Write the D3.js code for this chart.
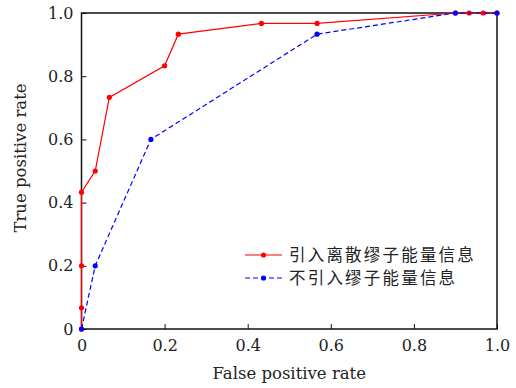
<!DOCTYPE html>
<html lang="zh">
<head>
  <meta charset="UTF-8">
  <script src="https://d3js.org/d3.v7.min.js"></script>
  <style>
    body { margin: 0; padding: 0; background: #fff; }
    text { font-family: "DejaVu Serif", "Liberation Serif", serif; fill: #222; }
    .cjk { font-family: "Noto Sans CJK SC", sans-serif; }
  </style>
</head>
<body>
  <script>
    // ROC points
    const fprWith = [0, 0, 0, 0, 0.033, 0.067, 0.2, 0.233, 0.433, 0.567, 0.9, 0.933, 0.967, 1.0];
    const tprWith = [0, 0.067, 0.2, 0.433, 0.5, 0.733, 0.833, 0.933, 0.967, 0.967, 1.0, 1.0, 1.0, 1.0];
    const fprWithout = [0, 0.033, 0.167, 0.567, 0.9, 1.0];
    const tprWithout = [0, 0.2, 0.6, 0.933, 1.0, 1.0];
    const xTicks = [0, 0.2, 0.4, 0.6, 0.8, 1.0];
    const yTicks = [0, 0.2, 0.4, 0.6, 0.8, 1.0];
    const legendLabels = ['引入离散缪子能量信息', '不引入缪子能量信息'];

    const width = 516, height = 388;
    const margin = { left: 81.5, right: 19, top: 13, bottom: 59 };

    const svg = d3.select('body').append('svg')
      .attr('width', width)
      .attr('height', height);

    const x = d3.scaleLinear().domain([0, 1]).range([margin.left, width - margin.right]);
    const y = d3.scaleLinear().domain([0, 1]).range([height - margin.bottom, margin.top]);

    const fmt = d => d === 0 ? '0' : d3.format('.1f')(d);

    // axes, ticks pointing inward
    const xAxis = svg.append('g')
      .attr('transform', `translate(0,${y(0)})`)
      .call(d3.axisBottom(x).tickValues(xTicks).tickFormat(fmt).tickSizeInner(-5).tickSizeOuter(0).tickPadding(11));
    const yAxis = svg.append('g')
      .attr('transform', `translate(${x(0)},0)`)
      .call(d3.axisLeft(y).tickValues(yTicks).tickFormat(fmt).tickSizeInner(-5).tickSizeOuter(0).tickPadding(8));

    [xAxis, yAxis].forEach(a => {
      a.select('.domain').remove();
      a.selectAll('.tick line').attr('stroke', '#111').attr('stroke-width', 1);
      a.selectAll('.tick text').attr('font-size', 16).attr('fill', '#222');
    });

    // frame
    svg.append('rect')
      .attr('x', x(0)).attr('y', y(1))
      .attr('width', x(1) - x(0)).attr('height', y(0) - y(1))
      .attr('fill', 'none').attr('stroke', '#111').attr('stroke-width', 1.5);

    const series = [
      { xs: fprWith, ys: tprWith, color: '#ff0000', dash: null },
      { xs: fprWithout, ys: tprWithout, color: '#0000ff', dash: '5,3' }
    ];

    const line = d3.line().x(d => x(d[0])).y(d => y(d[1]));

    series.forEach(s => {
      const pts = s.xs.map((v, i) => [v, s.ys[i]]);
      svg.append('path')
        .datum(pts)
        .attr('d', line)
        .attr('fill', 'none')
        .attr('stroke', s.color)
        .attr('stroke-width', 1.2)
        .attr('stroke-dasharray', s.dash);
      svg.append('g').selectAll('circle')
        .data(pts)
        .enter().append('circle')
        .attr('cx', d => x(d[0]))
        .attr('cy', d => y(d[1]))
        .attr('r', 2.6)
        .attr('fill', s.color);
    });

    // legend
    const legend = svg.append('g').attr('transform', 'translate(245,255)');
    series.forEach((s, i) => {
      const g = legend.append('g').attr('transform', `translate(0,${i * 23})`);
      g.append('line')
        .attr('x1', 0).attr('x2', 37).attr('y1', 0).attr('y2', 0)
        .attr('stroke', s.color).attr('stroke-width', 1.2)
        .attr('stroke-dasharray', s.dash);
      g.append('circle').attr('cx', 18.5).attr('cy', 0).attr('r', 2.6).attr('fill', s.color);
      g.append('text')
        .attr('class', 'cjk')
        .attr('x', 44).attr('y', 0).attr('dy', '0.36em')
        .attr('font-size', 16.5)
        .attr('letter-spacing', 2.2)
        .attr('fill', '#222')
        .text(legendLabels[i]);
    });

    // axis titles
    svg.append('text')
      .attr('x', (x(0) + x(1)) / 2).attr('y', 379)
      .attr('text-anchor', 'middle')
      .attr('font-size', 16.5)
      .text('False positive rate');
    svg.append('text')
      .attr('transform', 'translate(26,158) rotate(-90)')
      .attr('text-anchor', 'middle')
      .attr('font-size', 16.5)
      .text('True positive rate');
  </script>
</body>
</html>
